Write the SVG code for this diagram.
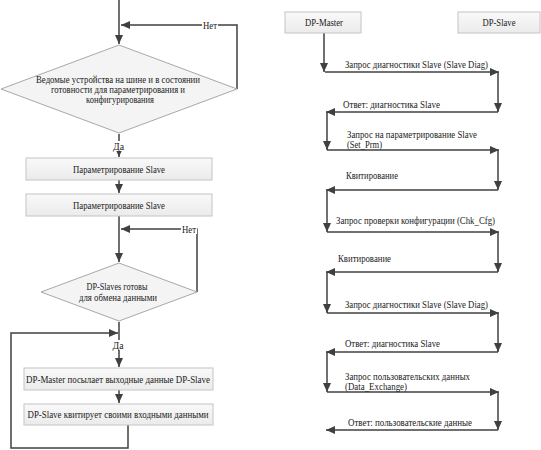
<svg xmlns="http://www.w3.org/2000/svg" width="541" height="450" viewBox="0 0 541 450">
<style>
text{font-family:'Liberation Serif', 'Times New Roman', Times, serif;font-size:10px;fill:#222}
.c{text-anchor:middle}
.box{fill:url(#g);stroke:#c4c4c4;stroke-width:1}
.dia{fill:#f4f4f4;stroke:#a8a8a8;stroke-width:1}
.ln{fill:none;stroke:#404040;stroke-width:1.5}
.bg{fill:#fff}
</style>
<defs>
<linearGradient id="g" x1="0" y1="0" x2="0" y2="1">
<stop offset="0" stop-color="#f9f9f9"/>
<stop offset="1" stop-color="#ebebeb"/>
</linearGradient>
<marker id="a" markerUnits="userSpaceOnUse" markerWidth="9" markerHeight="8" refX="9" refY="4" orient="auto">
<path d="M0,0 L9,4 L0,8 z" fill="#404040"/>
</marker>
</defs>
<g id="connectors">
<path class="ln" d="M119,0 V44" marker-end="url(#a)"/>
<path class="ln" d="M237,89 V25 H121" marker-end="url(#a)"/>
<path class="ln" d="M119,134 V157" marker-end="url(#a)"/>
<path class="ln" d="M119,180 V193" marker-end="url(#a)"/>
<path class="ln" d="M119,216 V262" marker-end="url(#a)"/>
<path class="ln" d="M197,292 V229 H121" marker-end="url(#a)"/>
<path class="ln" d="M119,322 V367" marker-end="url(#a)"/>
<path class="ln" d="M119,390 V403" marker-end="url(#a)"/>
<path class="ln" d="M128,425 V448 H11 V333 H118" marker-end="url(#a)"/>
<rect class="bg" x="202" y="20" width="16" height="10"/>
<text class="c" x="210" y="28.5" textLength="14" lengthAdjust="spacingAndGlyphs">Нет</text>
<rect class="bg" x="181" y="224" width="16" height="10"/>
<text class="c" x="189" y="232.5" textLength="14" lengthAdjust="spacingAndGlyphs">Нет</text>
<rect class="bg" x="111" y="141" width="15" height="10"/>
<text class="c" x="118.5" y="150" textLength="11" lengthAdjust="spacingAndGlyphs">Да</text>
<rect class="bg" x="111" y="340" width="15" height="10"/>
<text class="c" x="118" y="349" textLength="11" lengthAdjust="spacingAndGlyphs">Да</text>
<path class="ln" d="M324,33 V72" marker-end="url(#a)"/>
<path class="ln" d="M325,72 H499" marker-end="url(#a)"/>
<path class="ln" d="M498,72 V112" marker-end="url(#a)"/>
<path class="ln" d="M498,112 H326" marker-end="url(#a)"/>
<path class="ln" d="M327,112 V150" marker-end="url(#a)"/>
<path class="ln" d="M327,150 H499" marker-end="url(#a)"/>
<path class="ln" d="M498,150 V190" marker-end="url(#a)"/>
<path class="ln" d="M498,190 H326" marker-end="url(#a)"/>
<path class="ln" d="M327,190 V232" marker-end="url(#a)"/>
<path class="ln" d="M327,232 H499" marker-end="url(#a)"/>
<path class="ln" d="M498,232 V272" marker-end="url(#a)"/>
<path class="ln" d="M498,272 H326" marker-end="url(#a)"/>
<path class="ln" d="M327,272 V313" marker-end="url(#a)"/>
<path class="ln" d="M327,313 H499" marker-end="url(#a)"/>
<path class="ln" d="M498,313 V352" marker-end="url(#a)"/>
<path class="ln" d="M498,352 H326" marker-end="url(#a)"/>
<path class="ln" d="M327,352 V392" marker-end="url(#a)"/>
<path class="ln" d="M327,392 H499" marker-end="url(#a)"/>
<path class="ln" d="M498,392 V430" marker-end="url(#a)"/>
<path class="ln" d="M498,430 H326" marker-end="url(#a)"/>
<text x="345" y="68" textLength="143" lengthAdjust="spacingAndGlyphs">Запрос диагностики Slave (Slave Diag)</text>
<text x="343" y="108" textLength="97" lengthAdjust="spacingAndGlyphs">Ответ: диагностика Slave</text>
<text x="347" y="138" textLength="130" lengthAdjust="spacingAndGlyphs">Запрос на параметрирование Slave</text>
<text x="347" y="148" textLength="35" lengthAdjust="spacingAndGlyphs">(Set_Prm)</text>
<text x="346" y="179" textLength="52" lengthAdjust="spacingAndGlyphs">Квитирование</text>
<text x="336" y="224" textLength="159" lengthAdjust="spacingAndGlyphs">Запрос проверки конфигурации (Chk_Cfg)</text>
<text x="338" y="262" textLength="53" lengthAdjust="spacingAndGlyphs">Квитирование</text>
<text x="345" y="308" textLength="143" lengthAdjust="spacingAndGlyphs">Запрос диагностики Slave (Slave Diag)</text>
<text x="345" y="347" textLength="95" lengthAdjust="spacingAndGlyphs">Ответ: диагностика Slave</text>
<text x="345" y="380" textLength="125" lengthAdjust="spacingAndGlyphs">Запрос пользовательских данных</text>
<text x="345" y="390" textLength="62" lengthAdjust="spacingAndGlyphs">(Data_Exchange)</text>
<text x="348" y="426" textLength="124" lengthAdjust="spacingAndGlyphs">Ответ: пользовательские данные</text>
</g>
<g id="decision1">
<path class="dia" d="M119,45 L237,89 L119,133 L1,89 z"/>
<text class="c" x="118" y="83" textLength="164" lengthAdjust="spacingAndGlyphs">Ведомые устройства на шине и в состоянии</text>
<text class="c" x="118" y="93" textLength="134" lengthAdjust="spacingAndGlyphs">готовности для параметрирования и</text>
<text class="c" x="120" y="103" textLength="68" lengthAdjust="spacingAndGlyphs">конфигурирования</text>
</g>
<g id="box1">
<rect class="box" x="26" y="158" width="186" height="22"/>
<text class="c" x="119" y="172.5" textLength="92" lengthAdjust="spacingAndGlyphs">Параметрирование Slave</text>
</g>
<g id="box2">
<rect class="box" x="26" y="194" width="186" height="22"/>
<text class="c" x="119" y="208.5" textLength="92" lengthAdjust="spacingAndGlyphs">Параметрирование Slave</text>
</g>
<g id="decision2">
<path class="dia" d="M119,263 L197,292 L119,321 L41,292 z"/>
<text class="c" x="117" y="290" textLength="61" lengthAdjust="spacingAndGlyphs">DP-Slaves готовы</text>
<text class="c" x="118" y="301" textLength="78" lengthAdjust="spacingAndGlyphs">для обмена данными</text>
</g>
<g id="box3">
<rect class="box" x="24" y="368" width="189" height="22"/>
<text class="c" x="118" y="382.5" textLength="184" lengthAdjust="spacingAndGlyphs">DP-Master посылает выходные данные DP-Slave</text>
</g>
<g id="box4">
<rect class="box" x="24" y="404" width="189" height="21"/>
<text class="c" x="118" y="418" textLength="181" lengthAdjust="spacingAndGlyphs">DP-Slave квитирует своими входными данными</text>
</g>
<g id="master">
<rect class="box" x="285" y="12" width="76" height="21"/>
<text class="c" x="324" y="26" textLength="38" lengthAdjust="spacingAndGlyphs">DP-Master</text>
</g>
<g id="slave">
<rect class="box" x="458" y="12" width="82" height="21"/>
<text class="c" x="499" y="26" textLength="33" lengthAdjust="spacingAndGlyphs">DP-Slave</text>
</g>
</svg>
